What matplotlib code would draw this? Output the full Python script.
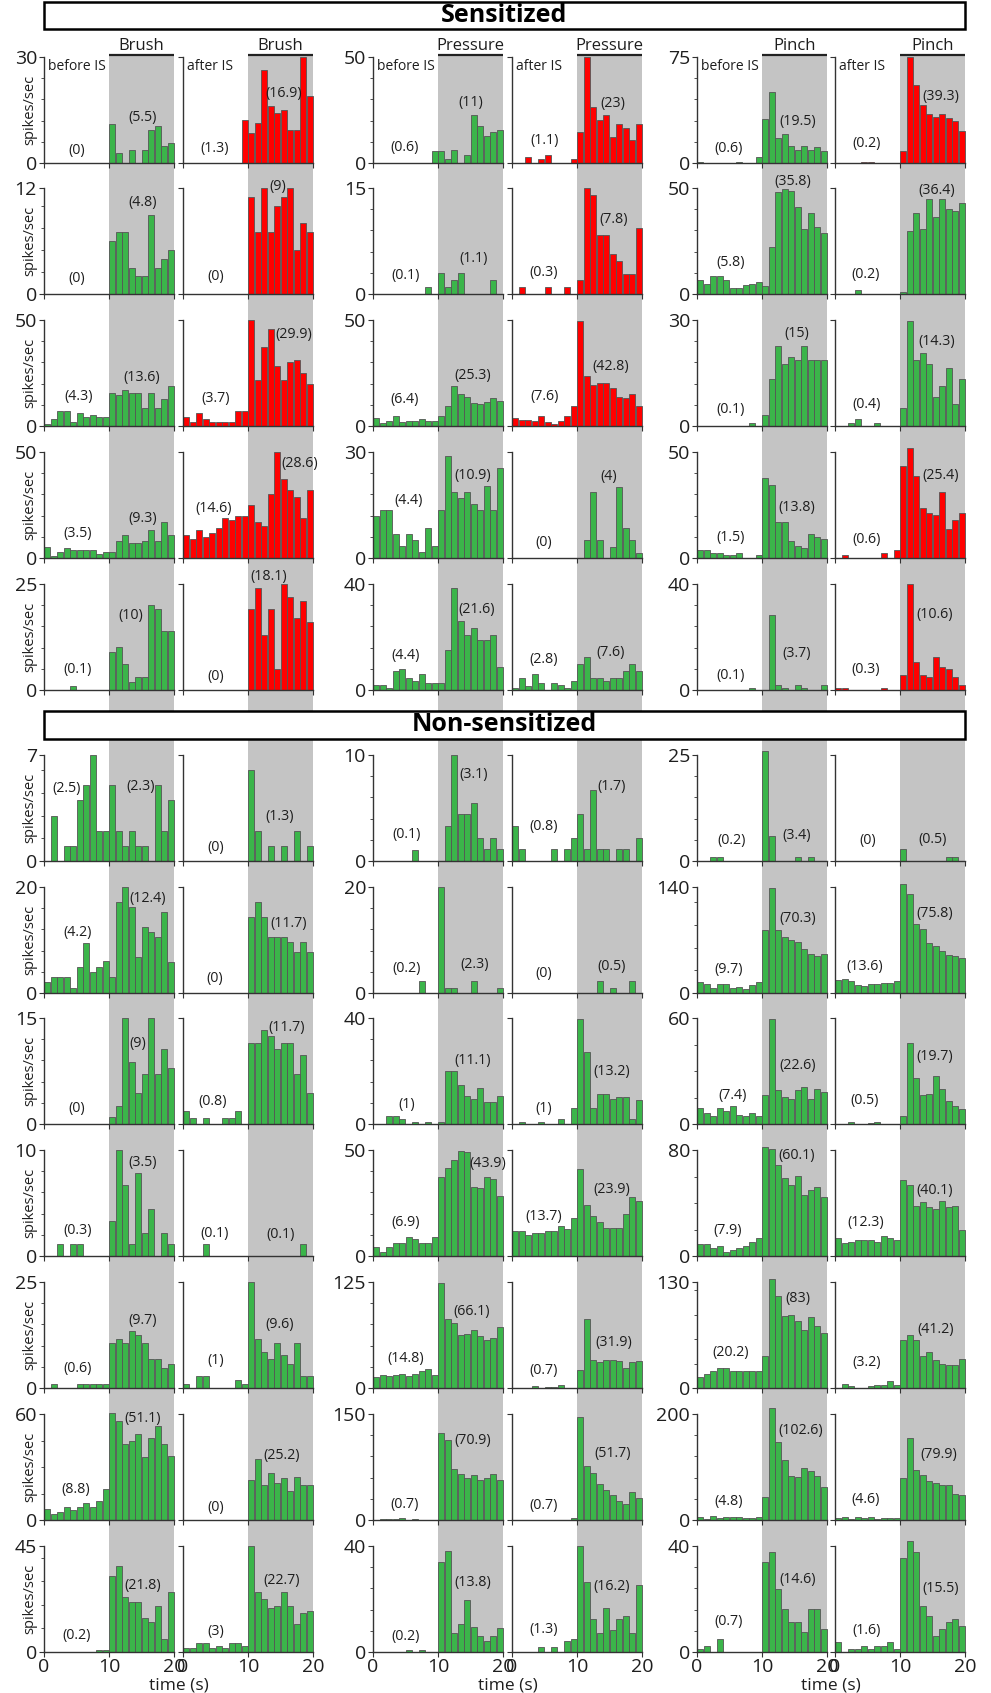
import numpy as np
import matplotlib
matplotlib.use("Agg")
from matplotlib import pyplot as plt
from matplotlib.patches import Rectangle
from matplotlib.ticker import MaxNLocator

plt.rcParams['font.family'] = ['Open Sans', 'DejaVu Sans']


# DATA
# firing rate (spikes/sec) in 1 s bins from 0 to 20 s, stimulus on 10-20 s
# panel order in every row: brush before, brush after, pressure before, pressure after, pinch before, pinch after
stimuli = ["Brush", "Pressure", "Pinch"]
phases = ["before IS", "after IS"]
bins = np.arange(20)

s1 = [[0]*10 + [11.1, 2.8, 0, 3.8, 0, 3.8, 9.4, 10.4, 4.7, 5.7],
      [0]*9 + [12.3] + [8.5, 11.3, 26.2, 16.0, 14.2, 15.1, 9.4, 9.4, 30.0, 18.9],
      [0]*9 + [5.5] + [5.5, 2.0, 6.3, 0, 3.9, 22.8, 17.3, 12.7, 14.5, 15.4],
      [0, 0, 2.8, 0, 1.9, 3.8, 0, 0, 0, 1.9] + [14.6, 50, 26.4, 20.1, 22.8, 12.1, 18.2, 16.5, 11.0, 18.2],
      [0.9, 0, 0, 0, 0, 0, 0.9, 0, 0, 4.0] + [30.9, 50.2, 17.9, 20.8, 12.3, 9.4, 12.3, 9.4, 11.3, 8.3],
      [0, 0, 0, 0, 0.9, 0.9, 0, 0, 0, 0] + [8.3, 75, 55.4, 40.8, 34.4, 32.5, 34.4, 31.6, 29.7, 22.4]]
s2 = [[0]*10 + [6.0, 7.0, 7.0, 3.0, 2.0, 2.0, 9.0, 3.0, 4.0, 5.0],
      [0]*10 + [11, 7, 12, 7, 10, 11, 12, 5, 8, 7],
      [0, 0, 0, 0, 0, 0, 0, 0, 1, 0] + [3, 1, 2, 3, 0, 0, 0, 0, 2, 0],
      [0, 1, 0, 0, 0, 1, 0, 0, 1, 0] + [2, 15, 14, 8.4, 8.4, 5.6, 4.6, 2.8, 2.8, 9.3],
      [6.7, 4.9, 8.6, 8.6, 6.7, 3.0, 3.0, 4.1, 4.9, 5.8] + [3.9, 22.1, 48.1, 49.7, 48.7, 41.2, 30.7, 38.2, 31.7, 28.8],
      [0, 0, 0, 1.9, 0, 0, 0, 0, 0, 0] + [0.9, 29.9, 38.4, 30.7, 45.0, 36.4, 45.0, 40.1, 39.3, 43.1]]
s3 = [[0.9, 3.1, 7.2, 7.2, 2.0, 6.1, 4.1, 5.0, 4.1, 4.1] + [15.6, 14.5, 16.8, 15.6, 15.6, 8.3, 15.6, 8.3, 12.6, 18.7],
      [4.1, 2.0, 6.1, 3.1, 2.0, 2.0, 2.0, 2.0, 7.2, 7.2] + [50, 21.9, 37.4, 45.6, 28.1, 21.9, 30.2, 31.1, 25.0, 19.8],
      [3.6, 1.3, 2.5, 4.6, 2.0, 2.5, 2.5, 3.5, 2.5, 2.5] + [4.6, 9.3, 19.0, 15.1, 13.8, 10.8, 10.4, 11.3, 13.4, 11.8],
      [3.8, 2.7, 2.7, 2.2, 4.7, 1.7, 0.8, 2.2, 4.7, 9.4] + [49.7, 23.7, 19.5, 20.4, 20.4, 17.9, 13.8, 13.4, 15.1, 9.3],
      [0, 0, 0, 0, 0, 0, 0, 0, 0.9, 0] + [3.0, 13.3, 22.7, 17.5, 19.6, 18.6, 22.7, 18.6, 18.6, 18.6],
      [0, 0, 0.9, 2.0, 0, 0, 0.9, 0, 0, 0] + [5.1, 29.8, 18.6, 20.7, 17.5, 8.2, 11.2, 16.4, 6.1, 13.3]]
s4 = [[5.0, 0.9, 2.8, 4.9, 3.9, 3.9, 3.9, 3.9, 1.9, 2.8] + [2.8, 8.0, 11.0, 6.9, 6.9, 8.0, 13.1, 8.0, 17.1, 11.0],
      [11.0, 9.0, 13.1, 10.1, 11.9, 14.0, 19.0, 17.9, 20.0, 20.0] + [25.0, 17.1, 14.9, 30.0, 50.0, 37.1, 31.9, 28.9, 19.0, 31.9],
      [11.8, 13.5, 13.5, 6.7, 3.4, 6.7, 5.1, 1.6, 8.4, 3.4] + [13.5, 29.0, 18.6, 17.0, 18.6, 15.3, 13.5, 20.4, 13.5, 25.5],
      [0]*10 + [0, 5.0, 18.6, 5.0, 0, 3.2, 20.2, 8.4, 5.0, 1.5],
      [3.6, 3.6, 2.4, 2.4, 1.3, 1.3, 2.4, 0, 0, 1.3] + [37.7, 34.3, 16.8, 16.8, 8.0, 5.7, 4.7, 11.2, 10.1, 9.0],
      [0, 1.3, 0, 0, 0, 0, 0, 2.4, 0, 3.6] + [43.2, 52.0, 38.8, 23.4, 21.4, 20.1, 31.1, 13.5, 17.9, 21.4]]
s5 = [[0, 0, 0, 0, 1.0, 0, 0, 0, 0, 0] + [9.0, 10.1, 6.1, 2.0, 3.0, 3.0, 20.0, 19.0, 14.0, 14.0],
      [0]*10 + [19.0, 24.0, 13.0, 19.0, 5.0, 25.0, 22.0, 17.0, 21.1, 16.0],
      [1.8, 1.8, 0.9, 7.2, 8.1, 4.5, 3.5, 6.2, 2.6, 2.6] + [2.6, 15.1, 38.4, 25.9, 20.6, 23.3, 18.7, 18.7, 20.6, 8.8],
      [0.75, 4.4, 1.6, 6.2, 2.6, 0, 2.6, 1.8, 0.9, 3.5] + [9.8, 12.5, 4.4, 4.4, 3.5, 4.4, 4.4, 7.2, 9.8, 7.0],
      [0, 0, 0, 0, 0, 0, 0, 0, 0.9, 0] + [0, 28.3, 1.8, 0.9, 0, 1.8, 0.9, 0, 0, 1.8],
      [0.9, 0.9, 0, 0, 0, 0, 0, 0.9, 0, 0] + [5.7, 40.0, 10.6, 5.7, 4.8, 12.6, 8.6, 7.9, 4.8, 1.8]]

ns1 = [[0, 3, 0, 1, 1, 4, 5, 7, 2, 2] + [5, 2, 1, 2, 1, 1, 0, 5, 2, 4],
       [0]*10 + [6, 2, 0, 1, 0, 1, 0, 2, 0, 1],
       [0, 0, 0, 0, 0, 0, 1, 0, 0, 0] + [0, 3.3, 10, 4.4, 4.4, 5.5, 2.2, 1.1, 2.2, 1.1],
       [3.3, 1.1, 0, 0, 0, 0, 1.1, 0, 1.1, 2.2] + [4.4, 1.1, 6.7, 1.1, 1.1, 0, 1.1, 1.1, 0, 2.2],
       [0, 0, 1, 1, 0, 0, 0, 0, 0, 0] + [26, 5.9, 0, 0, 0, 1, 0, 1, 0, 0],
       [0]*10 + [2.8, 0, 0, 0, 0, 0, 0, 1, 1, 0]]
ns2 = [[2, 3, 3, 3, 1, 5, 9.5, 4, 5, 6] + [3, 17.2, 20, 16.2, 6.7, 12.5, 11.5, 10.5, 15.3, 5.8],
       [0]*10 + [14.3, 17.2, 14.3, 10.5, 10.5, 10.5, 9.6, 7.7, 9.6, 7.7],
       [0, 0, 0, 0, 0, 0, 0, 2.2, 0, 0] + [20, 1.0, 1.0, 0, 0, 2.2, 0, 0, 0, 1.0],
       [0]*10 + [0, 0, 0, 2.2, 0, 1.0, 0, 0, 2.2, 0],
       [14.5, 11.4, 7.0, 11.4, 11.4, 6.2, 8.4, 5.3, 10.6, 14.5] + [83.6, 138.2, 82.8, 74.4, 69.6, 66.9, 57.7, 51.5, 49.3, 51.5],
       [17.2, 18.5, 15.4, 10.6, 9.2, 12.3, 12.3, 13.6, 13.6, 16.3] + [144.4, 131.2, 91.6, 84.5, 66.0, 61.6, 55.9, 50.6, 49.3, 46.2]]
ns3 = [[0]*10 + [1, 2.6, 15, 8.8, 4.4, 7.1, 15, 7.1, 10.6, 7.9],
       [1.8, 0.9, 0, 0.9, 0, 0, 0.9, 0.9, 1.8, 0] + [11.5, 11.5, 13.3, 12.4, 10.6, 11.5, 11.5, 7.1, 9.7, 4.4],
       [0, 0, 2.9, 2.9, 2.0, 0, 0.9, 0, 0.9, 0] + [0.9, 19.9, 19.9, 14.7, 10.4, 9.4, 13.6, 8.4, 8.4, 10.4],
       [0, 0.75, 0, 0, 0.75, 0, 0, 2.0, 0, 6.2] + [39.6, 27.2, 6.2, 11.3, 11.3, 9.4, 10.3, 10.3, 2.0, 9.2],
       [9.1, 6.2, 4.3, 9.1, 7.4, 10.2, 5.3, 4.3, 6.2, 4.3] + [16.2, 59.4, 19.2, 15.1, 14.2, 19.2, 21.1, 14.2, 20.0, 18.1],
       [0, 0, 1.1, 0, 0, 0.6, 1.3, 0, 0, 0] + [4.3, 45.8, 26.0, 16.2, 17.0, 27.0, 20.0, 13.2, 10.2, 8.5]]
ns4 = [[0, 0, 1.1, 0, 1.1, 1.1, 0, 0, 0, 0] + [3.3, 10, 6.7, 1.1, 7.8, 2.2, 4.4, 0, 2.2, 1.1],
       [0, 0, 0, 1.1, 0, 0, 0, 0, 0, 0] + [0, 0, 0, 0, 0, 0, 0, 0, 1.1, 0],
       [4.2, 1.7, 4.2, 6.1, 6.1, 8.8, 8.0, 6.1, 6.1, 8.8] + [37.3, 41.7, 45.4, 49.7, 48.9, 32.7, 31.9, 37.3, 36.5, 28.5],
       [11.6, 11.6, 9.7, 10.7, 10.7, 11.6, 11.6, 14.2, 12.6, 17.8] + [41.0, 23.9, 18.7, 16.0, 13.4, 13.4, 13.4, 19.7, 27.7, 25.9],
       [8.8, 8.8, 6.0, 7.8, 2.8, 4.8, 5.8, 7.8, 10.6, 13.6] + [82.5, 80.5, 68.7, 58.6, 53.6, 60.4, 45.8, 49.6, 52.3, 44.5],
       [13.6, 9.8, 10.6, 11.8, 11.8, 11.8, 10.6, 14.8, 13.6, 11.8] + [57.6, 53.6, 37.5, 40.8, 36.7, 35.5, 41.8, 36.7, 37.5, 19.6]]
ns5 = [[0, 1, 0, 0, 0, 1, 1, 1, 1, 1] + [10.6, 11.5, 10.6, 13.5, 12.5, 10.6, 6.8, 6.8, 4.8, 5.7],
       [0.9, 0, 2.8, 2.8, 0, 0, 0, 0, 1.9, 0.9] + [25, 11.5, 8.6, 6.8, 10.6, 7.7, 5.7, 10.6, 2.8, 2.8],
       [13.0, 15.3, 14.2, 15.3, 16.1, 14.2, 16.5, 20.0, 22.0, 14.9] + [124.2, 81.8, 77.0, 62.9, 64.1, 68.0, 61.3, 56.2, 59.4, 72.0],
       [0, 0, 0, 2.0, 0, 0.8, 0.8, 3.1, 0, 0] + [20.8, 81.4, 32.6, 31.1, 32.6, 32.6, 31.8, 24.0, 30.7, 31.8],
       [13.9, 16.8, 20.8, 24.1, 24.1, 20.4, 21.3, 21.3, 20.4, 20.4] + [39.7, 134.1, 112.8, 87.9, 89.9, 81.8, 71.5, 86.7, 76.4, 67.5],
       [0, 4.9, 2.5, 0, 0, 2.9, 4.1, 4.1, 9.0, 4.1] + [58.5, 65.4, 58.5, 38.8, 44.2, 34.7, 29.8, 28.6, 27.8, 36.0]]
ns6 = [[6.3, 3.4, 4.6, 7.2, 5.5, 7.2, 9.9, 7.2, 11.0, 17.3] + [60.4, 55.8, 42.9, 44.8, 48.4, 35.5, 46.5, 53.2, 42.9, 36.5],
       [0]*10 + [22.8, 34.7, 19.9, 26.4, 21.1, 23.7, 16.5, 24.5, 19.9, 19.9],
       [0, 0.9, 0.9, 0.9, 2.8, 0, 0.9, 0, 0, 0] + [123.4, 113.9, 72.6, 65.5, 59.8, 64.1, 56.5, 59.8, 65.5, 57.0],
       [0.5, 0, 0.5, 0, 0.5, 0.5, 0, 0, 0, 2.8] + [145.3, 75.9, 66.5, 50.3, 42.7, 35.1, 27.5, 22.3, 40.3, 30.8],
       [5.1, 2.5, 7.0, 4.4, 5.1, 6.3, 6.3, 3.8, 3.8, 5.1] + [44.3, 212.0, 146.8, 113.3, 82.3, 81.6, 97.5, 91.8, 83.5, 62.0],
       [3.8, 5.1, 2.5, 5.7, 4.4, 6.3, 1.9, 3.2, 3.2, 3.2] + [79.7, 154.4, 94.9, 84.2, 72.8, 70.3, 66.5, 65.2, 48.7, 46.8]]
ns7 = [[0]*8 + [0.7, 0.7] + [32.4, 36.3, 23.4, 21.4, 21.4, 14.6, 12.7, 19.4, 5.7, 25.6],
       [1.7, 1.7, 3.7, 3.7, 1.7, 2.7, 1.7, 3.7, 3.7, 2.7] + [45.0, 25.6, 22.4, 18.6, 19.4, 25.6, 19.4, 11.7, 16.6, 17.6],
       [0, 0, 0, 0, 0, 0.8, 0, 0.8, 0, 0] + [33.8, 38.0, 7.2, 10.4, 19.8, 9.4, 6.0, 4.1, 6.0, 9.1],
       [0, 0, 0, 0, 1.8, 0, 1.8, 0, 4.1, 5.0] + [40.0, 26.3, 12.3, 7.2, 16.6, 8.3, 12.3, 13.5, 7.2, 25.3],
       [1.1, 2.4, 0, 5.0, 0, 0, 0, 0, 0, 0] + [34.0, 37.8, 23.9, 16.3, 11.2, 11.2, 7.5, 16.3, 16.3, 8.6],
       [3.6, 0, 1.0, 1.0, 2.4, 1.0, 2.4, 2.4, 3.6, 1.0] + [35.3, 41.7, 37.8, 17.5, 13.7, 6.1, 8.6, 11.2, 12.4, 9.9]]

# y axis maximum per row for brush, pressure, pinch
sens_ymax = [[30, 50, 75], [12, 15, 50], [50, 50, 30], [50, 30, 50], [25, 40, 40]]
nons_ymax = [[7, 10, 25], [20, 20, 140], [15, 40, 60], [10, 50, 80],
             [25, 125, 130], [60, 150, 200], [45, 40, 40]]

# sensitized rows: which after-IS panel (brush, pressure, pinch) is marked red
sens_red = [[1, 1, 1], [1, 1, 0], [1, 1, 0], [1, 0, 1], [1, 0, 1]]

# mean rates printed in each panel: (before stimulus, during stimulus) for the 6 panels
sens_means = [
    ["(0)", "(5.5)", "(1.3)", "(16.9)", "(0.6)", "(11)", "(1.1)", "(23)", "(0.6)", "(19.5)", "(0.2)", "(39.3)"],
    ["(0)", "(4.8)", "(0)", "(9)", "(0.1)", "(1.1)", "(0.3)", "(7.8)", "(5.8)", "(35.8)", "(0.2)", "(36.4)"],
    ["(4.3)", "(13.6)", "(3.7)", "(29.9)", "(6.4)", "(25.3)", "(7.6)", "(42.8)", "(0.1)", "(15)", "(0.4)", "(14.3)"],
    ["(3.5)", "(9.3)", "(14.6)", "(28.6)", "(4.4)", "(10.9)", "(0)", "(4)", "(1.5)", "(13.8)", "(0.6)", "(25.4)"],
    ["(0.1)", "(10)", "(0)", "(18.1)", "(4.4)", "(21.6)", "(2.8)", "(7.6)", "(0.1)", "(3.7)", "(0.3)", "(10.6)"]]
nons_means = [
    ["(2.5)", "(2.3)", "(0)", "(1.3)", "(0.1)", "(3.1)", "(0.8)", "(1.7)", "(0.2)", "(3.4)", "(0)", "(0.5)"],
    ["(4.2)", "(12.4)", "(0)", "(11.7)", "(0.2)", "(2.3)", "(0)", "(0.5)", "(9.7)", "(70.3)", "(13.6)", "(75.8)"],
    ["(0)", "(9)", "(0.8)", "(11.7)", "(1)", "(11.1)", "(1)", "(13.2)", "(7.4)", "(22.6)", "(0.5)", "(19.7)"],
    ["(0.3)", "(3.5)", "(0.1)", "(0.1)", "(6.9)", "(43.9)", "(13.7)", "(23.9)", "(7.9)", "(60.1)", "(12.3)", "(40.1)"],
    ["(0.6)", "(9.7)", "(1)", "(9.6)", "(14.8)", "(66.1)", "(0.7)", "(31.9)", "(20.2)", "(83)", "(3.2)", "(41.2)"],
    ["(8.8)", "(51.1)", "(0)", "(25.2)", "(0.7)", "(70.9)", "(0.7)", "(51.7)", "(4.8)", "(102.6)", "(4.6)", "(79.9)"],
    ["(0.2)", "(21.8)", "(3)", "(22.7)", "(0.2)", "(13.8)", "(1.3)", "(16.2)", "(0.7)", "(14.6)", "(1.6)", "(15.5)"]]


# LAYOUT (pixels of the 991x1693 picture)
W, H = 991, 1693
col_left = [44, 183, 373, 512, 697, 835]
pw, ph = 130, 106
row_top = [57, 188, 320, 452, 584, 755, 887, 1018, 1150, 1282, 1414, 1546]
header_y = [(2, 29), (711, 739)]

# where the mean labels sit: (x before, y before, x during, y during), y as axes fraction
sens_pos = [
    [(5.0, .12, 15.2, .43), (4.8, .135, 15.5, .654), (4.9, .145, 15.0, .575),
     (5.0, .214, 15.5, .566), (4.8, .135, 15.5, .396), (4.9, .18, 16.3, .63)],
    [(5.1, .144, 15.2, .865), (5.0, .163, 14.5, 1.01), (5.0, .17, 15.4, .335),
     (4.9, .2, 15.6, .70), (5.1, .295, 14.8, 1.06), (4.7, .185, 15.6, .975)],
    [(5.3, .283, 15.0, .46), (5.0, .255, 17.1, .86), (4.9, .25, 15.4, .48),
     (5.0, .277, 15.2, .566), (5.2, .16, 15.3, .874), (4.9, .204, 15.6, .80)],
    [(5.1, .23, 15.2, .37), (4.7, .47, 17.9, .89), (5.4, .54, 15.4, .78),
     (4.9, .15, 14.8, .77), (5.1, .19, 15.4, .475), (4.8, .17, 16.3, .78)],
    [(5.1, .19, 13.4, .70), (5.1, .126, 13.2, 1.07), (5.0, .33, 16.0, .76),
     (4.9, .29, 15.2, .35), (5.2, .14, 15.4, .34), (4.7, .19, 15.4, .714)]]
nons_pos = [
    [(3.5, .685, 14.8, .70), (5.0, .13, 14.9, .42), (5.1, .25, 15.5, .82),
     (4.8, .33, 15.3, .70), (5.3, .19, 15.3, .24), (5.1, .19, 15.0, .20)],
    [(5.2, .575, 15.9, .896), (4.9, .135, 16.2, .654), (5.1, .23, 15.7, .27),
     (4.9, .18, 15.3, .25), (4.9, .22, 15.5, .70), (4.6, .25, 15.4, .75)],
    [(5.0, .145, 14.5, .76), (4.6, .21, 15.9, .91), (5.2, .18, 15.3, .60),
     (4.9, .15, 15.3, .50), (5.5, .27, 15.5, .55), (4.5, .22, 15.4, .64)],
    [(5.2, .24, 15.2, .88), (4.8, .21, 15.0, .20), (5.0, .32, 17.6, .87),
     (4.8, .377, 15.3, .63), (4.7, .236, 15.4, .95), (4.7, .32, 15.3, .62)],
    [(5.2, .18, 15.2, .64), (5.0, .26, 14.9, .60), (5.1, .28, 15.2, .72),
     (4.9, .167, 15.7, .43), (5.1, .333, 15.5, .84), (4.9, .245, 15.5, .55)],
    [(4.8, .285, 15.2, .96), (5.1, .12, 15.1, .61), (4.9, .15, 15.4, .75),
     (4.9, .136, 15.5, .63), (4.8, .174, 15.9, .84), (4.7, .193, 15.9, .62)],
    [(5.0, .16, 15.2, .625), (5.0, .197, 15.2, .673), (5.0, .15, 15.4, .66),
     (4.9, .21, 15.3, .616), (4.8, .286, 15.5, .68), (4.9, .206, 16.3, .60)]]

green = "#3bb54a"
red = "#ff0000"
shade = "#c4c4c4"
edge = "#555555"
ink = "#1e1e1e"

rows = [s1, s2, s3, s4, s5] + [ns1, ns2, ns3, ns4, ns5, ns6, ns7]
ymaxs = sens_ymax + nons_ymax
reds = sens_red + [[0, 0, 0]] * 7
means = sens_means + nons_means
positions = sens_pos + nons_pos


fig = plt.figure(figsize=(W / 100, H / 100), dpi=100)

for r in range(12):
    top = row_top[r]
    # gray stimulus column runs continuously down each section
    upper = 55 if r == 0 else (header_y[1][1] if r == 5 else top)
    if r == 4:
        lower = header_y[1][0]
    elif r == 11:
        lower = top + ph
    else:
        lower = row_top[r + 1]

    for c in range(6):
        ax = fig.add_axes([col_left[c] / W, 1 - (top + ph) / H, pw / W, ph / H])
        ax.patch.set_visible(False)
        ymax = ymaxs[r][c // 2]
        ax.set_xlim(0, 20)
        ax.set_ylim(0, ymax)

        ax.axvspan(10, 20, ymin=-(lower - top - ph) / ph, ymax=1 + (top - upper) / ph,
                   color=shade, lw=0, zorder=0, clip_on=False)

        col = red if (c % 2 == 1 and reds[r][c // 2]) else green
        ax.bar(bins + 0.06, rows[r][c], width=0.88, align='edge', color=col,
               edgecolor=edge, linewidth=0.6, zorder=2, clip_on=False)

        # cosmetics
        for sp in ['top', 'right']:
            ax.spines[sp].set_visible(False)
        for sp in ['left', 'bottom']:
            ax.spines[sp].set_color('#333333')
            ax.spines[sp].set_linewidth(1.0)
            ax.spines[sp].set_zorder(3)
        ax.set_xticks([0, 10, 20])
        ax.set_yticks([0, ymax])
        ax.tick_params(axis='both', direction='out', length=3.5, width=0.8,
                       colors='#333333', labelcolor=ink, labelsize=14)
        ax.tick_params(axis='y', pad=1.5)
        ax.tick_params(axis='x', pad=1.0)
        if c % 2 == 0:
            ax.yaxis.set_minor_locator(MaxNLocator(5))
            ax.tick_params(axis='y', which='minor', direction='out', length=2, width=0.6, colors='#333333')
        else:
            ax.tick_params(axis='y', labelleft=False)
        if r != 11:
            ax.tick_params(axis='x', labelbottom=False)

        xt = ax.get_xaxis_transform()
        px0, py0, px1, py1 = positions[r][c]
        ax.text(px0, py0, means[r][2 * c], transform=xt, ha='center', va='center',
                fontsize=10.3, color=ink)
        ax.text(px1, py1, means[r][2 * c + 1], transform=xt, ha='center', va='center',
                fontsize=10.3, color=ink)

        if r == 0:
            ax.plot([10, 20], [1 + 2 / ph] * 2, transform=xt, color='#222222', lw=1.6,
                    clip_on=False, solid_capstyle='butt')
            ax.text(15, 1.104, stimuli[c // 2], transform=xt, ha='center', va='center',
                    fontsize=12, color=ink)
            ax.text(0.03, 0.915, phases[c % 2], transform=ax.transAxes, ha='left',
                    va='center', fontsize=10, color=ink)

    fig.text(30 / W, 1 - (top + ph / 2) / H, "spikes/sec", rotation=90,
             ha='center', va='center', fontsize=10.5, color=ink)

# section headers
for (y0, y1), title in zip(header_y, ["Sensitized", "Non-sensitized"]):
    fig.patches.append(Rectangle((44 / W, 1 - y1 / H), (965 - 44) / W, (y1 - y0) / H,
                                 transform=fig.transFigure, facecolor='white',
                                 edgecolor='black', linewidth=1.8, zorder=5))
    fig.text(504.5 / W, 1 - (y0 + y1) / 2 / H, title, ha='center', va='center',
             fontsize=18, fontweight='bold', color='black', zorder=6)

for xc in [178.5, 507.5, 830.5]:
    fig.text(xc / W, 1 - 1693 / H, "time (s)", ha='center', va='bottom',
             fontsize=12.5, color=ink)

fig.savefig("out.png", dpi=100)
